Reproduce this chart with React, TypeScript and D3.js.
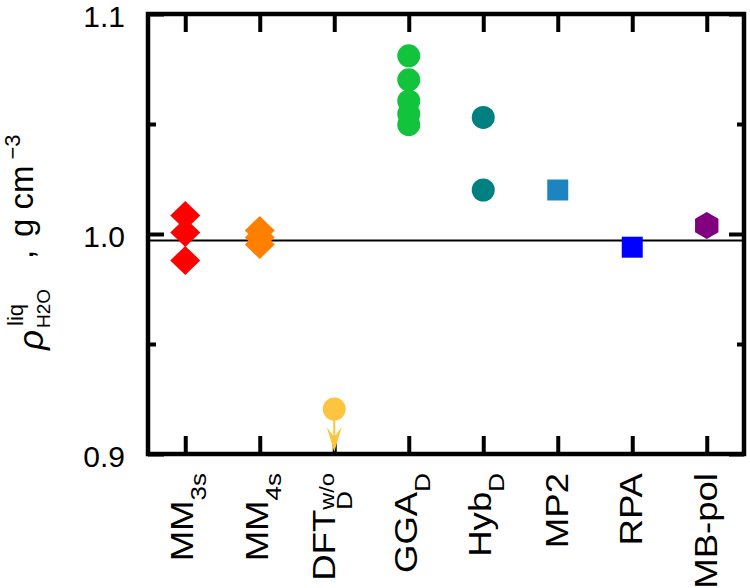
import { useEffect, useRef } from "react";
import {
  axisBottom,
  axisLeft,
  axisRight,
  axisTop,
  scaleLinear,
  scalePoint,
  select,
  symbol,
  symbolCircle,
  symbolSquare,
} from "d3";

// x categories and their label pieces
const categories = ["MM3s", "MM4s", "DFTw/oD", "GGAD", "HybD", "MP2", "RPA", "MB-pol"];
const labelMain = ["MM", "MM", "DFT", "GGA", "Hyb", "MP2", "RPA", "MB-pol"];
const labelSub = ["3s", "4s", "D", "D", "D", "", "", ""];
const labelSup = ["", "", "w/o", "", "", "", "", ""];

// liquid water density per method, g cm^-3
const mm3s = [1.0084, 1.0007, 0.988];
const mm4s = [1.0016, 0.9984, 0.9952];
const dftNoD = [0.9204];
const ggaD = [1.081, 1.0701, 1.0605, 1.0546, 1.0497];
const hybD = [1.053, 1.02];
const mp2 = [1.02];
const rpa = [0.994];
const mbPol = [1.0039];

const experiment = 0.997;
const majorTicks = [0.9, 1.0, 1.1];
const minorTicks = [0.95, 1.05];

type Shape = "diamond" | "circle" | "square" | "hexagon";

const series: { key: string; values: number[]; shape: Shape; color: string; below?: boolean }[] = [
  { key: "MM3s", values: mm3s, shape: "diamond", color: "#ff0000" },
  { key: "MM4s", values: mm4s, shape: "diamond", color: "#ff8000" },
  { key: "DFTw/oD", values: dftNoD, shape: "circle", color: "#fdc440", below: true },
  { key: "GGAD", values: ggaD, shape: "circle", color: "#12c43c" },
  { key: "HybD", values: hybD, shape: "circle", color: "#008080" },
  { key: "MP2", values: mp2, shape: "square", color: "#1c84c0" },
  { key: "RPA", values: rpa, shape: "square", color: "#0000ff" },
  { key: "MB-pol", values: mbPol, shape: "hexagon", color: "#800080" },
];

const FONT = "'Liberation Sans', Arial, Helvetica, sans-serif";

function markerPath(shape: Shape): string {
  if (shape === "diamond") return "M0,-14.5L15,0L0,14.5L-15,0Z";
  if (shape === "circle") return symbol(symbolCircle, Math.PI * 11.5 * 11.5)() || "";
  if (shape === "square") return symbol(symbolSquare, 21 * 21)() || "";
  const r = 13.5;
  const pts = [0, 1, 2, 3, 4, 5].map((k) => {
    const a = ((-90 + 60 * k) * Math.PI) / 180;
    return `${r * Math.cos(a)},${r * Math.sin(a)}`;
  });
  return `M${pts.join("L")}Z`;
}

export default function App() {
  const svgRef = useRef<SVGSVGElement | null>(null);

  useEffect(() => {
    const svg = select(svgRef.current);
    svg.selectAll("*").remove();

    const width = 750;
    const height = 588;
    const margin = { top: 14, right: 6, bottom: 134, left: 148 };
    const innerWidth = width - margin.left - margin.right;
    const innerHeight = height - margin.top - margin.bottom;

    const x = scalePoint<string>().domain(categories).range([0, innerWidth]).padding(0.5);
    const y = scaleLinear().domain([0.9, 1.1]).range([innerHeight, 0]);

    const g = svg
      .append("g")
      .attr("transform", `translate(${margin.left},${margin.top})`)
      .attr("font-family", FONT);

    // ticks, all pointing inward
    const styleTicks = (sel: any) => {
      sel.select(".domain").remove();
      sel.selectAll(".tick line").attr("stroke", "#000").attr("stroke-width", 4);
    };

    const yAxis = g.append("g");
    yAxis.call(axisLeft(y).tickValues(majorTicks).tickSize(-16).tickPadding(23).tickFormat((d: any) => (+d).toFixed(1)));
    styleTicks(yAxis);
    yAxis
      .selectAll(".tick text")
      .attr("font-size", 30)
      .attr("font-family", FONT)
      .attr("fill", "#000")
      .attr("dy", "0.4em");

    const yMinor = g.append("g");
    yMinor.call(axisLeft(y).tickValues(minorTicks).tickSize(-8).tickFormat(() => ""));
    styleTicks(yMinor);

    const yRight = g.append("g").attr("transform", `translate(${innerWidth},0)`);
    yRight.call(axisRight(y).tickValues(majorTicks).tickSize(-15).tickFormat(() => ""));
    styleTicks(yRight);
    const yRightMinor = g.append("g").attr("transform", `translate(${innerWidth},0)`);
    yRightMinor.call(axisRight(y).tickValues(minorTicks).tickSize(-7).tickFormat(() => ""));
    styleTicks(yRightMinor);

    const xTop = g.append("g");
    xTop.call(axisTop(x).tickSize(-18).tickFormat(() => ""));
    styleTicks(xTop);
    const xBottom = g.append("g").attr("transform", `translate(0,${innerHeight})`);
    xBottom.call(axisBottom(x).tickSize(-18).tickFormat(() => ""));
    styleTicks(xBottom);

    // experimental reference density
    g.append("line")
      .attr("x1", 0)
      .attr("x2", innerWidth)
      .attr("y1", y(experiment))
      .attr("y2", y(experiment))
      .attr("stroke", "#000")
      .attr("stroke-width", 2);

    // downward arrows for values beyond the lower bound
    series
      .filter((s) => s.below)
      .forEach((s) => {
        const cx = x(s.key) || 0;
        const tip = innerHeight - 2;
        s.values.forEach((v) => {
          g.append("line")
            .attr("x1", cx)
            .attr("x2", cx)
            .attr("y1", y(v))
            .attr("y2", tip - 14)
            .attr("stroke", s.color)
            .attr("stroke-width", 2);
          g.append("path")
            .attr("d", `M${cx},${tip}L${cx - 7.5},${tip - 25}L${cx},${tip - 15}L${cx + 7.5},${tip - 25}Z`)
            .attr("fill", s.color);
        });
      });

    // markers
    series.forEach((s) => {
      const d = markerPath(s.shape);
      g.selectAll(null)
        .data(s.values)
        .enter()
        .append("path")
        .attr("d", d)
        .attr("transform", (v) => `translate(${x(s.key)},${y(v)})`)
        .attr("fill", s.color);
    });

    // frame
    g.append("rect")
      .attr("width", innerWidth)
      .attr("height", innerHeight)
      .attr("fill", "none")
      .attr("stroke", "#000")
      .attr("stroke-width", 4.5);

    // rotated category labels, ending just under the axis
    categories.forEach((c, i) => {
      const cx = margin.left + (x(c) || 0);
      const lg = svg
        .append("g")
        .attr("transform", `translate(${cx},473) rotate(-90) scale(1.18,1)`)
        .attr("font-family", FONT)
        .attr("fill", "#000");
      if (labelSup[i]) {
        const sup = lg
          .append("text")
          .attr("y", 0)
          .attr("font-size", 20)
          .attr("text-anchor", "end")
          .text(labelSup[i]);
        const supLen = (sup.node() as SVGTextElement).getComputedTextLength();
        lg.append("text")
          .attr("x", -supLen)
          .attr("y", 1)
          .attr("font-size", 31)
          .attr("text-anchor", "end")
          .text(labelMain[i]);
        lg.append("text")
          .attr("x", -supLen)
          .attr("y", 18)
          .attr("font-size", 22)
          .text(labelSub[i]);
      } else if (labelSub[i]) {
        const t = lg.append("text").attr("y", 8).attr("text-anchor", "end");
        t.append("tspan").attr("font-size", 31).text(labelMain[i]);
        t.append("tspan").attr("font-size", 22).attr("dy", 13).text(labelSub[i]);
      } else {
        lg.append("text")
          .attr("y", 10)
          .attr("font-size", 31)
          .attr("text-anchor", "end")
          .text(labelMain[i]);
      }
    });

    // y axis title: rho^liq_H2O , g cm^-3
    const yl = svg
      .append("g")
      .attr("transform", "translate(0,350) rotate(-90)")
      .attr("font-family", FONT)
      .attr("fill", "#000");
    yl.append("text").attr("x", 0).attr("y", 43).attr("font-size", 35).attr("font-style", "italic").text("ρ");
    yl.append("text").attr("x", 24).attr("y", 23).attr("font-size", 22).text("liq");
    yl.append("text").attr("x", 22).attr("y", 50).attr("font-size", 19).text("H2O");
    yl.append("text").attr("x", 91).attr("y", 33).attr("font-size", 33).text(",");
    const unit = yl.append("text").attr("x", 113).attr("y", 33).attr("font-size", 33).text("g cm");
    const unitLen = (unit.node() as SVGTextElement).getComputedTextLength();
    yl.append("text")
      .attr("x", 113 + unitLen + 6)
      .attr("y", 20)
      .attr("font-size", 22)
      .text("−3");
  }, []);

  return (
    <svg
      ref={svgRef}
      width={750}
      height={588}
      style={{ position: "absolute", left: 0, top: 0, background: "#fff" }}
    ></svg>
  );
}
